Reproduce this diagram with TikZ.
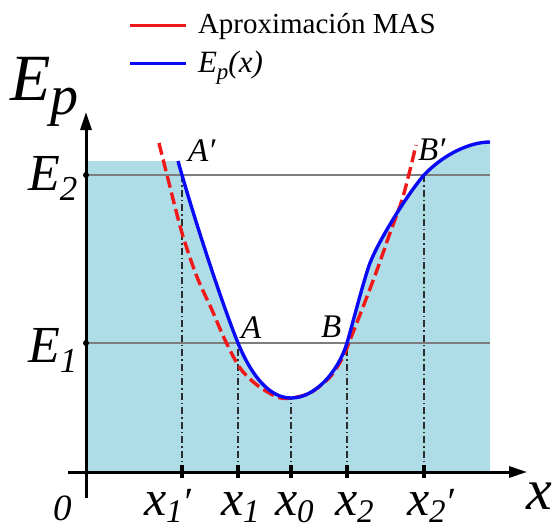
\documentclass[tikz,border=0pt]{standalone}
\usepackage{fontspec}
\setmainfont{Liberation Serif}
\usetikzlibrary{arrows.meta}
\newcommand{\fs}[1]{\fontsize{#1}{#1}\selectfont}
\newcommand{\prm}{\char"2032}
\definecolor{areafill}{RGB}{174,221,232}
\definecolor{levelgray}{RGB}{125,125,125}
\definecolor{guidegray}{RGB}{45,45,45}
\definecolor{curveblue}{RGB}{10,10,245}
\definecolor{curvered}{RGB}{240,25,25}
\begin{document}
\begin{tikzpicture}[x=1pt,y=-1pt,
  lbl/.style={anchor=base west, inner sep=0pt, outer sep=0pt},
  axisline/.style={line width=3pt, -{Triangle[length=18pt,width=11pt]}},
  levelline/.style={line width=2.5pt, levelgray},
  guideline/.style={line width=1.6pt, guidegray, dash pattern=on 7pt off 3pt on 1.5pt off 3pt},
  tickmark/.style={line width=4pt},
  truecurve/.style={line width=3.4pt, curveblue},
  approxcurve/.style={line width=3.4pt, curvered, dash pattern=on 12pt off 5pt},
  legendline/.style={line width=3pt}]
\useasboundingbox (0,0) rectangle (553,530);

% named points
\coordinate (O) at (86,472);
\coordinate (Ytop) at (86,112);
\coordinate (Ybot) at (86,498);
\coordinate (Xleft) at (68,472);
\coordinate (Xright) at (527,472);
\coordinate (E2l) at (86,175);
\coordinate (E2r) at (490,175);
\coordinate (E1l) at (86,343);
\coordinate (E1r) at (490,343);
\coordinate (Ap) at (182,175);
\coordinate (A) at (238,343);
\coordinate (M) at (291,398);
\coordinate (B) at (347,343);
\coordinate (Bp) at (424,175);
\coordinate (tx1p) at (182,472);
\coordinate (tx1) at (238,472);
\coordinate (tx0) at (291,472);
\coordinate (tx2) at (347,472);
\coordinate (tx2p) at (424,472);

% filled area under the curve
\fill[areafill] (86,472) -- (86,161) -- (178,161)
  .. controls (195,222) and (224,309) .. (238,343)
  .. controls (252,377) and (270,398) .. (291,398)
  .. controls (315,398) and (338,372) .. (347,343)
  .. controls (352,326) and (364,279) .. (370,263)
  .. controls (378,242) and (406,196) .. (424,175)
  .. controls (444,154) and (470,142) .. (490,142)
  -- (490,472) -- cycle;

% energy levels
\draw[levelline] (E2l) -- (E2r);
\draw[levelline] (E1l) -- (E1r);

% guide lines
\draw[guideline] (tx1p) -- (Ap);
\draw[guideline] (tx1) -- (A);
\draw[guideline] (tx0) -- (M);
\draw[guideline] (tx2) -- (B);
\draw[guideline] (tx2p) -- (Bp);

% harmonic approximation
\draw[approxcurve] plot[smooth] coordinates {
 (159,143) (167,175) (182,233) (197,277) (212,310) (225,340) (240,368)
 (257,385) (277,397) (291,398) (310,393) (330,377) (343,357) (350,340)
 (363,307) (377,270) (390,233) (402,200) (410,170) (416,145)};

% potential energy
\draw[truecurve] (178,161)
  .. controls (195,222) and (224,309) .. (A)
  .. controls (252,377) and (270,398) .. (M)
  .. controls (315,398) and (338,372) .. (B)
  .. controls (352,326) and (364,279) .. (370,263)
  .. controls (378,242) and (406,196) .. (Bp)
  .. controls (444,154) and (470,142) .. (490,142);

% axes
\draw[axisline] (Ybot) -- (Ytop);
\draw[axisline] (Xleft) -- (Xright);
\foreach \t in {tx1p,tx1,tx0,tx2,tx2p}{
  \draw[tickmark] ([yshift=-6pt]\t) -- ([yshift=7pt]\t);
}
\fill (E2l) circle (3pt);
\fill (E1l) circle (3pt);

% axis labels
\node[lbl] (lEp) at (10,100) {\fs{66}\itshape E\raisebox{-14pt}{\fs{56}p}};
\node[lbl] (lE2) at (28,190) {\fs{52}\itshape E\raisebox{-10pt}{\fs{35}2}};
\node[lbl] (lE1) at (28,362) {\fs{52}\itshape E\raisebox{-10pt}{\fs{35}1}};
\node[lbl] (l0) at (53,520) {\fs{37}\itshape 0};
\node[lbl] (lx) at (526,509) {\fs{58}\itshape x};
\node[lbl] (lx1p) at (144,515) {\fs{50}\itshape x\raisebox{-7pt}{\fs{33}1}\fs{40}\prm};
\node[lbl] (lx1) at (221,515) {\fs{50}\itshape x\raisebox{-7pt}{\fs{33}1}};
\node[lbl] (lx0) at (275,515) {\fs{50}\itshape x\raisebox{-7pt}{\fs{33}0}};
\node[lbl] (lx2) at (335,515) {\fs{50}\itshape x\raisebox{-7pt}{\fs{33}2}};
\node[lbl] (lx2p) at (407,515) {\fs{50}\itshape x\raisebox{-7pt}{\fs{33}2}\fs{40}\prm};

% point labels
\node[lbl] (lAp) at (188,161) {\fs{33}\itshape A\prm};
\node[lbl] (lBp) at (418,160) {\fs{33}\itshape B\prm};
\node[lbl] (lA) at (241,338) {\fs{33}\itshape A};
\node[lbl] (lB) at (321,337) {\fs{33}\itshape B};

% legend
\coordinate (lg1a) at (130,25);
\coordinate (lg1b) at (186,25);
\coordinate (lg2a) at (130,63);
\coordinate (lg2b) at (186,63);
\draw[legendline, curvered] (lg1a) -- (lg1b);
\draw[legendline, curveblue] (lg2a) -- (lg2b);
\node[lbl] (lgt1) at (198,33) {\fs{29}Aproximación MAS};
\node[lbl] (lgt2) at (198,72) {\fs{31}\itshape E\raisebox{-7pt}{\fs{23}p}(x)};
\end{tikzpicture}
\end{document}
